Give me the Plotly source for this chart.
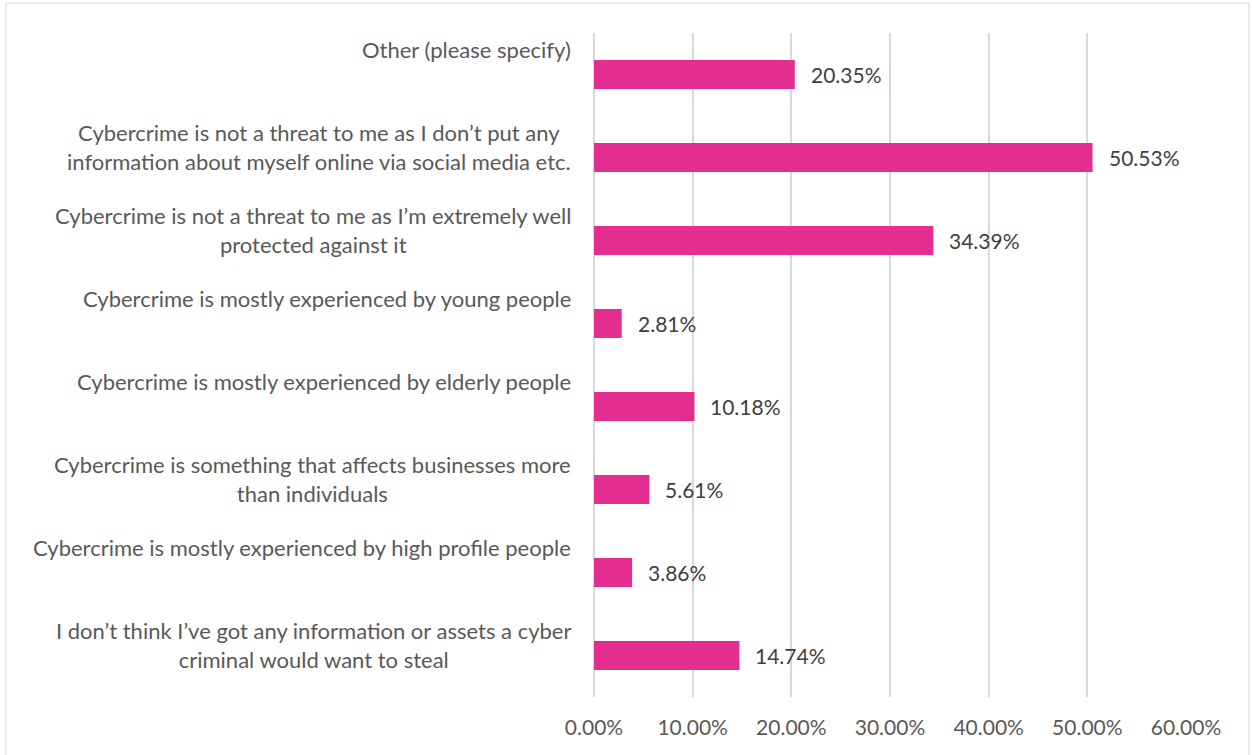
import plotly.graph_objects as go

# Survey responses, listed top to bottom
categories = [
    "Other (please specify)",
    "Cybercrime is not a threat to me as I don\u2019t put any<br>information about myself online via social media etc.",
    "Cybercrime is not a threat to me as I\u2019m extremely well<br>protected against it",
    "Cybercrime is mostly experienced by young people",
    "Cybercrime is mostly experienced by elderly people",
    "Cybercrime is something that affects businesses more<br>than individuals",
    "Cybercrime is mostly experienced by high profile people",
    "I don\u2019t think I\u2019ve got any information or assets a cyber<br>criminal would want to steal",
]
values = [20.35, 50.53, 34.39, 2.81, 10.18, 5.61, 3.86, 14.74]
x_ticks = [0, 10, 20, 30, 40, 50, 60]
x_tick_labels = ["0.00%", "10.00%", "20.00%", "30.00%", "40.00%", "50.00%", "60.00%"]

FONT = "Lato"
BAR = "#E32D8F"
GRID = "#D9D9D9"
positions = list(range(len(categories)))

fig = go.Figure()
fig.add_trace(go.Bar(
    x=values,
    y=positions,
    orientation="h",
    width=0.35,
    marker=dict(color=BAR, line=dict(width=0)),
    hoverinfo="skip",
))

annotations = []
# Category labels: right aligned to the plot, top aligned within each band
for pos, label in zip(positions, categories):
    annotations.append(dict(
        x=0, xref="paper", y=pos, yref="y",
        text=label, showarrow=False,
        xanchor="right", yanchor="top", align="center",
        xshift=-21, yshift=41,
        font=dict(family=FONT, size=22, color="#595959"),
    ))
# Value labels to the right of each bar
for pos, v in zip(positions, values):
    annotations.append(dict(
        x=v, xref="x", y=pos, yref="y",
        text=f"{v:.2f}%", showarrow=False,
        xanchor="left", yanchor="middle", xshift=14,
        font=dict(family=FONT, size=21, color="#404040"),
    ))

fig.update_layout(
    width=1252, height=755,
    margin=dict(l=594, r=66, t=33, b=58),
    paper_bgcolor="white", plot_bgcolor="white",
    showlegend=False,
    annotations=annotations,
    shapes=[dict(
        type="rect", xref="paper", yref="paper",
        x0=(6 - 594) / 592, x1=(1249 - 594) / 592,
        y0=-0.2, y1=(697 - 3) / 664,
        line=dict(color=GRID, width=1), fillcolor="rgba(0,0,0,0)",
        layer="below",
    )],
    xaxis=dict(
        range=[0, 60], tickvals=x_ticks, ticktext=x_tick_labels,
        showgrid=True, gridcolor=GRID, gridwidth=2,
        zeroline=True, zerolinecolor=GRID, zerolinewidth=2,
        showline=False, ticks="",
        ticklabelstandoff=16,
        tickfont=dict(family=FONT, size=21, color="#595959"),
    ),
    yaxis=dict(
        range=[len(categories) - 0.5, -0.5],
        showticklabels=False, showgrid=False, zeroline=False,
        showline=False, ticks="",
    ),
)

fig.write_html("out.html")
